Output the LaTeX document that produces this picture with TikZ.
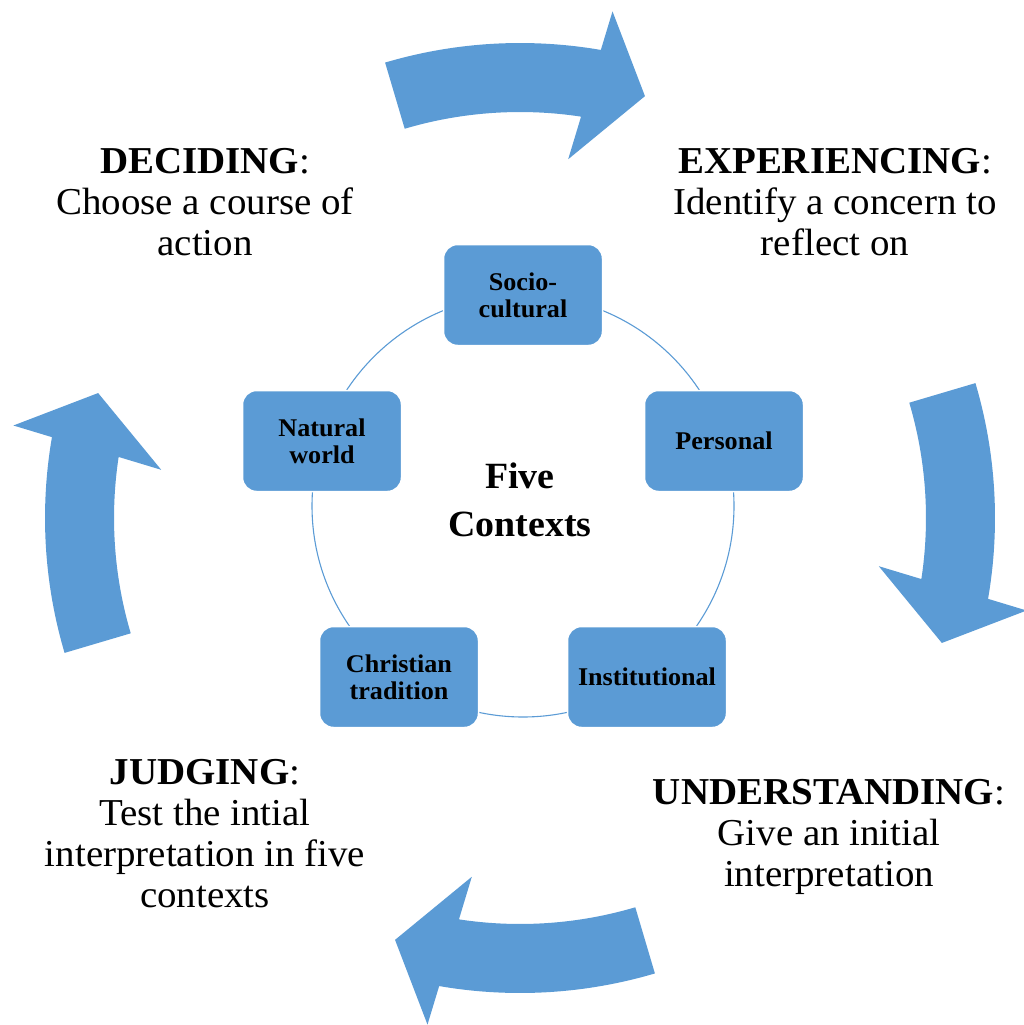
\documentclass[tikz,border=0pt]{standalone}
\usepackage{fontspec}
\setmainfont{Liberation Serif}[FakeStretch=1.025]
\definecolor{ctxblue}{HTML}{5B9BD5}

\begin{document}
\begin{tikzpicture}[x=1pt,y=-1pt,
  ctxbox/.style={fill=ctxblue, draw=white, line width=1.5pt, rounded corners=14pt,
    minimum width=159pt, minimum height=101pt, inner sep=0pt, align=center,
    font=\fontsize{25.5}{27}\selectfont\bfseries},
  stage/.style={align=center, inner sep=0pt, font=\fontsize{38}{41}\selectfont},
  ring/.style={draw=ctxblue, line width=1.1pt},
  cyclearrow/.style={fill=ctxblue}
]
\useasboundingbox (0,0) rectangle (1023,1025);

% four curved block arrows turning clockwise round the cycle
\foreach \k in {0,...,3}{
  \begin{scope}[shift={(520,518)}, yscale=-1, rotate=-90*\k]
    \fill[cyclearrow] (106.5:475) arc[start angle=106.5, end angle=80.2, radius=475]
      -- (79.65:515) -- (73.5:440) -- (82.35:362) -- (81.35:406)
      arc[start angle=81.35, end angle=106.5, radius=406] -- cycle;
  \end{scope}
}

% ring joining the five contexts
\coordinate (hub) at (523,506);
\draw[ring] (hub) circle[radius=211];

\node[ctxbox] (socio) at (523,295) {Socio-\\cultural};
\node[ctxbox] (personal) at (724,441) {Personal};
\node[ctxbox] (institutional) at (647,677) {Institutional};
\node[ctxbox] (christian) at (399,677) {Christian\\tradition};
\node[ctxbox] (natural) at (322,441) {Natural\\world};

\node[align=center, inner sep=0pt, font=\fontsize{37}{48}\selectfont\bfseries]
  (centre) at (520,500) {Five\\Contexts};

% the four stages of the cycle
\node[stage] (deciding) at (205,202) {\textbf{DECIDING}:\\Choose a course of\\action};
\node[stage] (experiencing) at (835,202) {\textbf{EXPERIENCING}:\\Identify a concern to\\reflect on};
\node[stage] (understanding) at (829,837) {\textbf{UNDERSTANDING}:\\Give an initial\\interpretation};
\node[stage] (judging) at (205,834) {\textbf{JUDGING}:\\Test the intial\\interpretation in five\\contexts};
\end{tikzpicture}
\end{document}
